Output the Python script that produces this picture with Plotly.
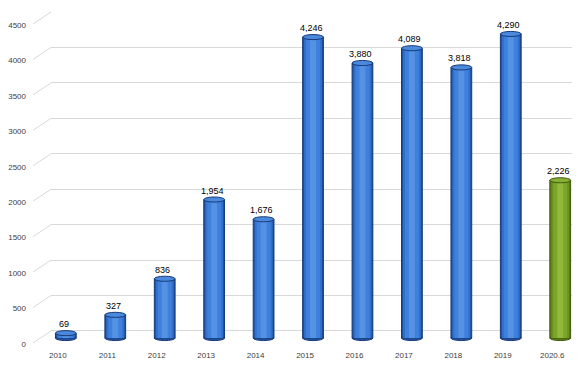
import plotly.graph_objects as go

categories = ["2010", "2011", "2012", "2013", "2014", "2015", "2016", "2017", "2018", "2019", "2020.6"]
values = [69, 327, 836, 1954, 1676, 4246, 3880, 4089, 3818, 4290, 2226]
y_ticks = [0, 500, 1000, 1500, 2000, 2500, 3000, 3500, 4000, 4500]

# colour sets: (edge, mid, main, highlight, top face, outline)
BLUE = ("#21509c", "#3170cc", "#3e80dc", "#5592e4", "#4a89dc", "#173a78")
GREEN = ("#587816", "#6c9222", "#7ba52b", "#90b93c", "#86b033", "#41590d")
palette = [BLUE] * (len(values) - 1) + [GREEN]

Y_RANGE = [-170, 4500]     # grid / tick axis
Y2_RANGE = [-70, 4600]     # bar axis (slightly lower, perspective)
BAR_W = 0.42
FONT = "Liberation Sans, Arial"

fig = go.Figure()

fig.add_trace(go.Scatter(x=categories, y=values, yaxis="y", mode="none",
                         showlegend=False, hoverinfo="skip"))

layers = [(BAR_W, 0), (0.36, 1), (0.28, 2), (0.12, 3)]
for w, k in layers:
    fig.add_trace(go.Bar(
        x=categories, y=values, width=w, yaxis="y2",
        marker=dict(color=[p[k] for p in palette],
                    line=dict(width=1 if k == 0 else 0, color=[p[5] for p in palette])),
        showlegend=False, hoverinfo="skip",
    ))

ell = 36  # half-height of ellipse in value units
shapes = []
annotations = []
for i, (v, p) in enumerate(zip(values, palette)):
    shapes.append(dict(type="circle", xref="x", yref="y2",
                       x0=i - BAR_W / 2, x1=i + BAR_W / 2, y0=-ell, y1=ell,
                       fillcolor=p[0], line=dict(color=p[5], width=1), layer="below"))
    shapes.append(dict(type="circle", xref="x", yref="y2",
                       x0=i - BAR_W / 2, x1=i + BAR_W / 2, y0=v - ell, y1=v + ell,
                       fillcolor=p[4], line=dict(color=p[5], width=1), layer="above"))
    annotations.append(dict(x=i, y=v, xref="x", yref="y2", text=f"{v:,}",
                            showarrow=False, yanchor="bottom", yshift=2, xshift=-2,
                            font=dict(family=FONT, size=9, color="#000000")))

span = Y_RANGE[1] - Y_RANGE[0]
for t in y_ticks:
    y1 = (t - Y_RANGE[0]) / span
    y0 = (t - 169 - Y_RANGE[0]) / span
    shapes.append(dict(type="line", xref="paper", yref="paper", x0=-0.034, x1=0,
                       y0=y0, y1=y1, line=dict(color="#d9d9d9", width=1)))

fig.update_layout(
    width=572, height=359,
    margin=dict(l=43, r=0, t=4, b=24, pad=0),
    paper_bgcolor="white", plot_bgcolor="white",
    barmode="overlay",
    shapes=shapes, annotations=annotations,
    xaxis=dict(type="category", range=[-0.3, 10.4], showgrid=False, zeroline=False,
               showline=False, ticks="", ticklabelshift=-8, ticklabelstandoff=6,
               tickfont=dict(family=FONT, size=8, color="#404040")),
    yaxis=dict(range=Y_RANGE, tickmode="array", tickvals=y_ticks,
               ticktext=[str(t) for t in y_ticks],
               showgrid=True, gridcolor="#d9d9d9", gridwidth=1, zeroline=False,
               showline=False, ticks="", ticklabelshift=13, ticklabelstandoff=24,
               tickfont=dict(family=FONT, size=8, color="#404040")),
    yaxis2=dict(range=Y2_RANGE, overlaying="y", showgrid=False, showticklabels=False,
                zeroline=False, showline=False, ticks=""),
)

fig.write_html("out.html")
